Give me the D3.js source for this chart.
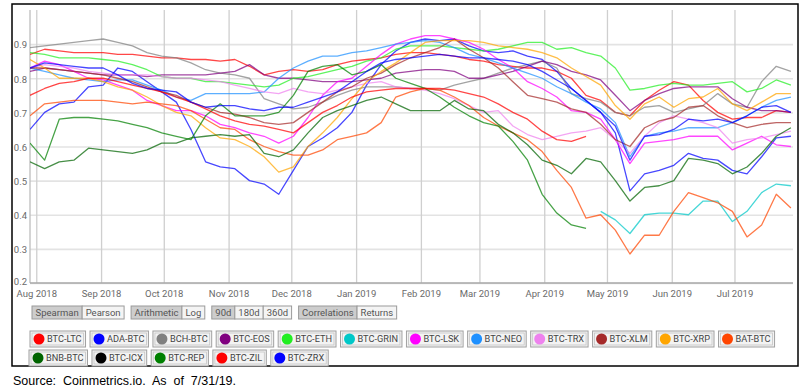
<!DOCTYPE html>
<html><head><meta charset="utf-8">
<script src="https://cdn.jsdelivr.net/npm/d3@7"></script>
<style>body{margin:0;background:#fff;}svg{display:block;font-family:Roboto,"Noto Sans",sans-serif;}</style>
</head><body><svg id="c" width="808" height="392"></svg>
<script>
// ---- data (weekly samples starting 2018-07-29) ----
const startDate = "2018-07-29";
const stepDays = 7;
const yTicks = [0.2, 0.3, 0.4, 0.5, 0.6, 0.7, 0.8, 0.9];
const monthTicks = ["2018-08-01","2018-09-01","2018-10-01","2018-11-01","2018-12-01","2019-01-01","2019-02-01","2019-03-01","2019-04-01","2019-05-01","2019-06-01","2019-07-01"];
const seriesNames = ["BTC-LTC","ADA-BTC","BCH-BTC","BTC-EOS","BTC-ETH","BTC-GRIN","BTC-LSK","BTC-NEO","BTC-TRX","BTC-XLM","BTC-XRP","BAT-BTC","BNB-BTC","BTC-ICX","BTC-REP","BTC-ZIL","BTC-ZRX"];
const seriesColors = ["#ff0000","#0000ff","#808080","#800080","#22ee22","#00c8c8","#ff00ff","#1e90ff","#ee82ee","#a52a2a","#ffa500","#ff4500","#006400","#000000","#008000","#ff0000","#0000ff"];
const buttonGroups = [["Spearman","Pearson"],["Arithmetic","Log"],["90d","180d","360d"],["Correlations","Returns"]];
const sourceText = "Source:  Coinmetrics.io.  As  of  7/31/19.";

const BTC_LTC = [.87,.885,.88,.875,.875,.875,.87,.87,.865,.86,.86,.855,.855,.85,.855,.835,.81,.82,.825,.82,.825,.84,.85,.855,.86,.87,.875,.875,.87,.865,.855,.85,.84,.835,.83,.83,.82,.80,.75,.735,.70,.69,.735,.765,.79,.78,.735,.70,.68,.685,.685,.705,.70];
const ADA_BTC = [.65,.70,.725,.73,.775,.78,.83,.82,.79,.76,.73,.65,.555,.54,.535,.50,.49,.46,.53,.60,.625,.655,.70,.78,.84,.88,.905,.915,.91,.915,.895,.88,.875,.88,.865,.855,.82,.77,.735,.70,.64,.47,.52,.53,.545,.58,.565,.56,.53,.52,.57,.625,.63];
const BCH_BTC = [.89,.895,.90,.905,.91,.915,.905,.895,.875,.865,.86,.845,.825,.815,.81,.80,.74,.725,.71,.715,.73,.75,.765,.775,.775,.775,.77,.77,.765,.78,.79,.80,.815,.83,.84,.85,.83,.755,.74,.73,.70,.69,.715,.72,.70,.71,.72,.755,.725,.715,.79,.835,.82];
const BTC_EOS = [.82,.83,.825,.82,.815,.81,.81,.81,.805,.81,.81,.81,.81,.815,.82,.84,.81,.80,.80,.795,.79,.79,.79,.795,.80,.815,.82,.825,.825,.82,.80,.80,.81,.82,.835,.85,.84,.82,.81,.795,.75,.705,.735,.755,.77,.775,.775,.775,.74,.715,.705,.705,.70];
const BTC_ETH = [.875,.87,.86,.86,.86,.855,.85,.84,.825,.805,.80,.80,.79,.79,.785,.78,.775,.78,.80,.805,.815,.825,.835,.85,.86,.885,.895,.895,.895,.89,.885,.88,.885,.895,.905,.905,.885,.89,.875,.865,.83,.765,.77,.78,.785,.78,.78,.785,.79,.76,.77,.795,.78];
const BTC_GRIN = [null,null,null,null,null,null,null,null,null,null,null,null,null,null,null,null,null,null,null,null,null,null,null,null,null,null,null,null,null,null,null,null,null,null,null,null,null,null,null,.41,.385,.345,.40,.405,.405,.40,.44,.44,.38,.41,.465,.49,.485];
const BTC_LSK = [.83,.85,.84,.82,.80,.795,.78,.765,.735,.72,.705,.705,.69,.665,.655,.64,.63,.61,.63,.685,.75,.79,.80,.835,.87,.90,.915,.925,.925,.915,.905,.885,.855,.83,.79,.77,.745,.705,.70,.68,.62,.55,.61,.615,.62,.63,.63,.63,.59,.61,.63,.605,.60];
const BTC_NEO = [.83,.82,.81,.80,.795,.79,.795,.795,.78,.765,.745,.735,.755,.755,.755,.755,.76,.80,.83,.85,.865,.865,.875,.88,.89,.90,.905,.91,.905,.89,.87,.86,.845,.83,.815,.80,.775,.755,.73,.71,.67,.57,.63,.64,.645,.655,.655,.655,.67,.69,.715,.735,.745];
const BTC_TRX = [.83,.84,.835,.83,.82,.815,.81,.81,.81,.805,.80,.80,.795,.79,.78,.77,.76,.755,.77,.76,.755,.765,.775,.785,.79,.775,.77,.765,.755,.74,.72,.70,.705,.66,.635,.62,.63,.64,.645,.655,.62,.58,.63,.67,.69,.68,.67,.655,.61,.62,.625,.635,.645];
const BTC_XLM = [.83,.83,.825,.82,.815,.81,.80,.79,.775,.76,.75,.73,.715,.70,.695,.685,.67,.665,.67,.70,.73,.76,.775,.80,.815,.84,.86,.875,.89,.915,.885,.86,.83,.79,.75,.74,.73,.71,.70,.665,.62,.60,.655,.675,.685,.715,.72,.69,.67,.655,.665,.67,.67];
const BTC_XRP = [.855,.83,.80,.80,.80,.79,.775,.765,.745,.72,.70,.69,.655,.625,.62,.60,.57,.525,.54,.60,.64,.685,.74,.79,.82,.845,.875,.905,.91,.91,.91,.905,.895,.89,.885,.875,.86,.83,.805,.78,.72,.68,.725,.745,.715,.74,.745,.77,.725,.705,.73,.755,.755];
const BAT_BTC = [.69,.725,.73,.735,.735,.735,.73,.725,.73,.725,.72,.705,.68,.655,.65,.62,.60,.585,.575,.575,.59,.62,.63,.64,.67,.745,.76,.77,.765,.745,.72,.685,.66,.64,.62,.585,.53,.48,.39,.40,.355,.285,.34,.34,.41,.465,.45,.435,.41,.335,.37,.46,.42];
const BNB_BTC = [.555,.535,.555,.56,.595,.59,.585,.58,.59,.61,.61,.625,.63,.635,.63,.635,.58,.57,.59,.64,.685,.705,.72,.735,.745,.725,.705,.705,.705,.735,.71,.705,.665,.64,.605,.56,.545,.52,.565,.555,.50,.44,.48,.485,.50,.565,.56,.55,.52,.54,.58,.63,.655];
const BTC_ICX = [];
const BTC_REP = [.61,.56,.68,.685,.685,.68,.675,.665,.655,.64,.63,.62,.69,.725,.69,.69,.69,.70,.75,.82,.835,.84,.81,.82,.84,.80,.785,.77,.745,.715,.69,.67,.66,.615,.56,.46,.405,.37,.36];
const BTC_ZIL = [.75,.77,.785,.79,.80,.80,.79,.78,.77,.76,.745,.73,.71,.69,.675,.665,.66,.65,.64,.67,.70,.72,.745,.76,.765,.77,.77,.77,.77,.765,.755,.745,.725,.70,.68,.645,.62,.615,.63];
const BTC_ZRX = [.83,.845,.84,.835,.83,.83,.81,.785,.77,.765,.76,.73,.715,.72,.72,.71,.705,.715,.715,.73,.745,.76,.79,.82,.845,.855,.86,.865,.87,.865,.86,.86,.855,.85,.84,.82,.795,.77,.735,.70,.66,.56,.63,.635,.65,.68,.675,.68,.67,.69,.715,.72,.70];
const seriesValues = [BTC_LTC,ADA_BTC,BCH_BTC,BTC_EOS,BTC_ETH,BTC_GRIN,BTC_LSK,BTC_NEO,BTC_TRX,BTC_XLM,BTC_XRP,BAT_BTC,BNB_BTC,BTC_ICX,BTC_REP,BTC_ZIL,BTC_ZRX];

// ---- layout ----
const svg = d3.select("#c");
const parse = d3.timeParse("%Y-%m-%d");
const t0 = parse(startDate);
const plot = {l:30, r:793, t:10, b:283};
const x = d3.scaleTime().domain([t0, d3.timeDay.offset(t0, 365)]).range([plot.l, plot.r]);
const y = d3.scaleLinear().domain([0.2, 1.0]).range([plot.b, plot.t]);

// frame
svg.append("rect").attr("x",12).attr("y",4).attr("width",786).attr("height",362)
  .attr("fill","none").attr("stroke","#000").attr("stroke-width",1.5);

// horizontal gridlines
const gy = svg.append("g").attr("transform",`translate(${plot.l},0)`)
  .call(d3.axisLeft(y).tickValues(yTicks).tickSize(-(plot.r-plot.l)).tickFormat(d3.format(".1f")));
gy.select(".domain").remove();
gy.selectAll(".tick line").attr("stroke","#e3e3e3").attr("stroke-width",1.6);
gy.selectAll(".tick text").attr("x",-3).attr("dy", d => d === 0.2 ? "0.2em" : "0.4em").attr("fill","#6a6a6a").style("font-size","9.5px").style("font-family","Roboto");

// vertical gridlines + x labels
const months = monthTicks.map(parse);
const gx = svg.append("g").attr("transform",`translate(0,${plot.b})`)
  .call(d3.axisBottom(x).tickValues(months).tickSize(-(plot.b-plot.t)).tickFormat(d3.timeFormat("%b %Y")));
gx.select(".domain").remove();
gx.selectAll(".tick line").attr("stroke","#cfcfcf").attr("stroke-width",1.3);
gx.selectAll(".tick text").attr("y",7.5).attr("dy","0.71em").attr("fill","#6a6a6a").style("font-size","9.5px").style("font-family","Roboto");

// axis lines
svg.append("line").attr("x1",plot.l).attr("x2",plot.l).attr("y1",plot.t).attr("y2",plot.b).attr("stroke","#bdbdbd").attr("stroke-width",1.3);
svg.append("line").attr("x1",plot.l).attr("x2",plot.r).attr("y1",plot.b).attr("y2",plot.b).attr("stroke","#a8a8a8").attr("stroke-width",1.3);

// lines
svg.append("clipPath").attr("id","clip").append("rect").attr("x",plot.l).attr("y",plot.t).attr("width",plot.r-plot.l).attr("height",plot.b-plot.t);
const line = d3.line().defined(d => d.v != null).x(d => x(d.t)).y(d => y(d.v));
const gl = svg.append("g").attr("clip-path","url(#clip)");
seriesNames.forEach((name,i) => {
  const pts = seriesValues[i].map((v,k) => ({t: d3.timeDay.offset(t0, k*stepDays), v}));
  gl.append("path").datum(pts).attr("d", line).attr("fill","none")
    .attr("stroke", seriesColors[i]).attr("stroke-width",1.3).attr("stroke-opacity",0.72)
    .attr("stroke-linejoin","round");
});

// buttons
let bx = 32;
const by = 306, bh = 13;
buttonGroups.forEach(group => {
  group.forEach((label, j) => {
    const g = svg.append("g");
    const tt = g.append("text").attr("y", by + bh/2).attr("dy","0.35em").attr("fill","#555")
      .style("font-size","9.5px").text(label);
    const w = tt.node().getComputedTextLength() + 7;
    g.insert("rect","text").attr("x",bx).attr("y",by).attr("width",w).attr("height",bh)
      .attr("fill", j === 0 ? "#cdcdcd" : "#f4f4f4").attr("stroke","#9a9a9a").attr("stroke-width",1);
    tt.attr("x", bx + w/2).attr("text-anchor","middle");
    bx += w;
  });
  bx += 7;
});

// legend
const rowsY = [331, 350];
const itemH = 16;
let lx = 30, row = 0;
seriesNames.forEach((name,i) => {
  if (name === "BNB-BTC") { row = 1; lx = 29; }
  const yy = rowsY[row];
  const g = svg.append("g");
  const tt = g.append("text").attr("x", lx + 17).attr("y", yy + itemH/2).attr("dy","0.35em")
    .attr("fill","#444").style("font-size","9.2px").text(name);
  const w = tt.node().getComputedTextLength() + 21;
  g.insert("rect","text").attr("x",lx).attr("y",yy).attr("width",w).attr("height",itemH)
    .attr("fill","#f3f3f3").attr("stroke","#a0a0a0").attr("stroke-width",1);
  g.insert("rect","text").attr("x",lx+2).attr("y",yy+2).attr("width",w-4).attr("height",itemH-4)
    .attr("fill","none").attr("stroke","#c4c4c4").attr("stroke-width",0.8);
  g.append("circle").attr("cx", lx + 9).attr("cy", yy + itemH/2).attr("r", 5.5).attr("fill", seriesColors[i]);
  lx += w + 4.5;
});

// source
svg.append("text").attr("x",13).attr("y",385).attr("fill","#000")
  .style("font-family","'Liberation Sans',Arial,sans-serif").style("font-size","12.5px")
  .attr("xml:space","preserve").style("white-space","pre").text(sourceText);
</script></body></html>
